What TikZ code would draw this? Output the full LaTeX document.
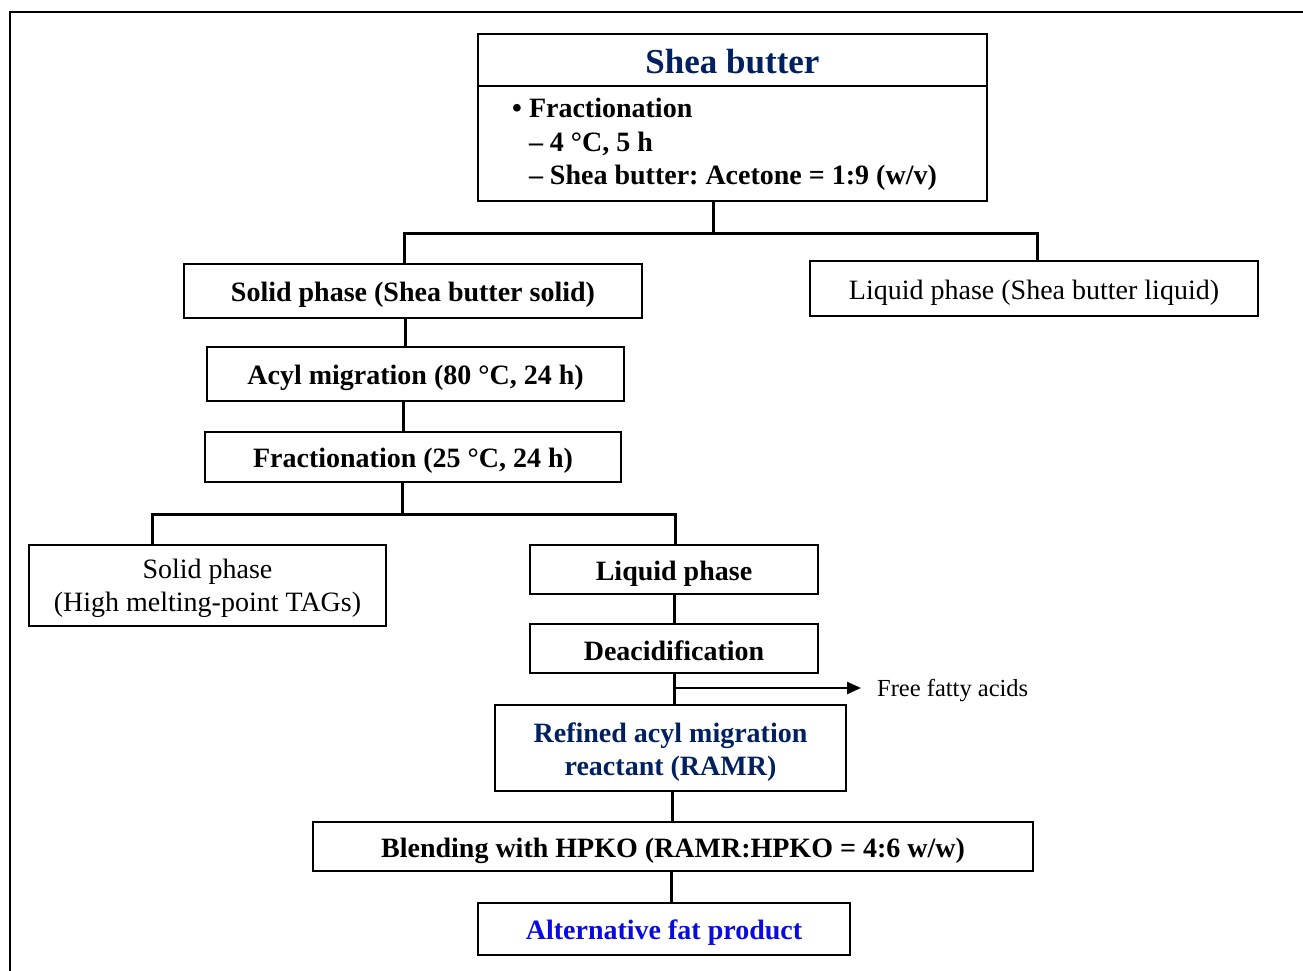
\documentclass[tikz,border=0pt]{standalone}
\usepackage{fontspec}
\setmainfont{Liberation Serif}
\usetikzlibrary{arrows.meta}
\definecolor{navy}{RGB}{0,32,96}
\definecolor{vblue}{RGB}{10,10,225}
\frenchspacing
\begin{document}
\begin{tikzpicture}[x=1pt,y=-1pt,
  box/.style={draw,line width=2.2pt,rectangle,inner sep=0pt},
  lab/.style={inner sep=0pt,align=center,yshift=-4pt,font=\fontsize{28}{33}\selectfont},
  blab/.style={lab,font=\fontsize{28}{33}\selectfont\bfseries},
  conn/.style={line width=3pt},
  txt/.style={inner sep=0pt,font=\fontsize{28}{33.5}\selectfont}]
\useasboundingbox (0,0) rectangle (1303,971);
\draw[line width=2.8pt] (10,971) -- (10,12) -- (1303,12);

% boxes
\node[box, minimum width=509, minimum height=115] (cond) at (732.5,143.5) {};
\node[box, minimum width=509, minimum height=52,
  label={[blab,yshift=2pt,text=navy,font=\fontsize{35}{40}\selectfont\bfseries]center:Shea butter}] (title) at (732.5,60) {};
\node[txt, anchor=west, align=left, font=\fontsize{28}{33.5}\selectfont\bfseries] (condtext) at (512,144.5)
  {\textbullet\ Fractionation\\\phantom{\textbullet\ }– 4 °C, 5 h\\\phantom{\textbullet\ }– Shea butter: Acetone = 1:9 (w/v)};

\node[box, minimum width=458, minimum height=54, label={[blab]center:{Solid phase (Shea butter solid)}}] (solid1) at (413,291) {};
\node[box, minimum width=448, minimum height=55, label={[lab]center:{Liquid phase (Shea butter liquid)}}] (liquid1) at (1034,288.5) {};
\node[box, minimum width=417, minimum height=54, label={[blab]center:{Acyl migration (80 °C, 24 h)}}] (acyl) at (415.5,374) {};
\node[box, minimum width=416, minimum height=50, label={[blab]center:{Fractionation (25 °C, 24 h)}}] (frac) at (413,457) {};
\node[box, minimum width=357, minimum height=81, label={[lab,yshift=1pt]center:{Solid phase\\(High melting-point TAGs)}}] (solid2) at (207.5,585.5) {};
\node[box, minimum width=288, minimum height=49, label={[blab]center:{Liquid phase}}] (liquid2) at (674,569.5) {};
\node[box, minimum width=288, minimum height=49, label={[blab,yshift=1.5pt]center:{Deacidification}}] (deacid) at (674,648.5) {};
\node[box, minimum width=351, minimum height=86, label={[blab,text=navy]center:{Refined acyl migration\\reactant (RAMR)}}] (refined) at (670.5,748) {};
\node[box, minimum width=720, minimum height=49, label={[blab]center:{Blending with HPKO (RAMR:HPKO = 4:6 w/w)}}] (blend) at (673,846.5) {};
\node[box, minimum width=372, minimum height=52, label={[blab,text=vblue]center:{Alternative fat product}}] (alt) at (664,929) {};
\node[txt, anchor=west, font=\fontsize{24.5}{29}\selectfont] (ffa) at (877,691) {Free fatty acids};

% helper coordinates
\coordinate (j1) at (713,233);
\coordinate (j1a) at (404,233);
\coordinate (j1b) at (1037,233);
\coordinate (x405) at (405,0);
\coordinate (x403) at (403,0);
\coordinate (j2) at (402,514);
\coordinate (j2a) at (152,514);
\coordinate (j2b) at (675,514);
\coordinate (fa) at (674,688);
\coordinate (fe) at (861,688);
\coordinate (x672) at (672,0);
\coordinate (x671) at (671,0);

% connectors
\draw[conn] (cond.south -| j1) -- (j1);
\draw[conn] (j1a |- solid1.north) -- (j1a) -- (j1b) -- (j1b |- liquid1.north);
\draw[conn] (solid1.south -| x405) -- (acyl.north -| x405);
\draw[conn] (acyl.south -| x403) -- (frac.north -| x403);
\draw[conn] (frac.south -| j2) -- (j2);
\draw[conn] (j2a |- solid2.north) -- (j2a) -- (j2b) -- (j2b |- liquid2.north);
\draw[conn] (liquid2.south) -- (deacid.north);
\draw[conn] (deacid.south) -- (refined.north -| deacid.south);
\draw[line width=2.4pt, -{Triangle[length=14pt,width=12pt]}] (fa) -- (fe);
\draw[conn] (refined.south -| x672) -- (blend.north -| x672);
\draw[conn] (blend.south -| x671) -- (alt.north -| x671);
\end{tikzpicture}
\end{document}
